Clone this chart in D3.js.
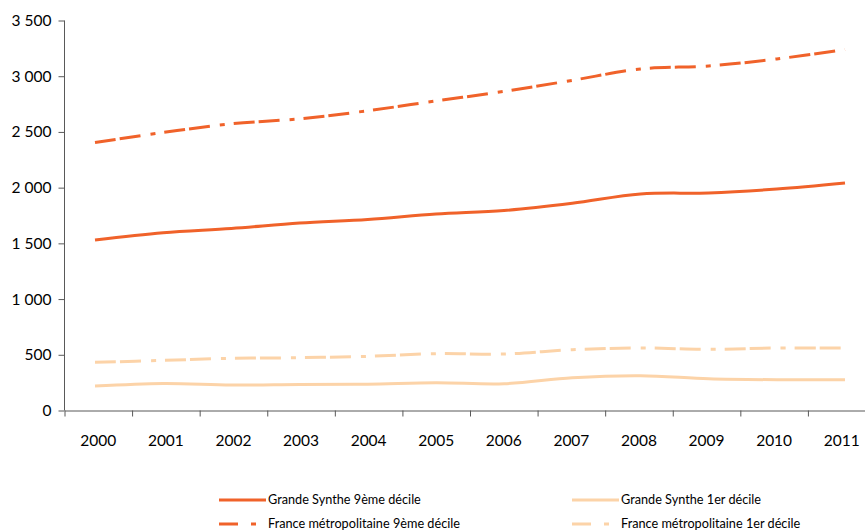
<!DOCTYPE html>
<html>
<head>
<meta charset="utf-8">
<script src="https://cdn.jsdelivr.net/npm/d3@7"></script>
<style>
  html, body { margin: 0; padding: 0; background: #fff; }
  svg { display: block; }
  text { font-family: Lato, "Open Sans", sans-serif; fill: #000; }
</style>
</head>
<body>
<svg id="chart" width="865" height="532"></svg>
<script>
// ---- Data ----
const years = ["2000","2001","2002","2003","2004","2005","2006","2007","2008","2009","2010","2011"];
const gs9 = [1530, 1595, 1634, 1683, 1715, 1763, 1795, 1860, 1943, 1953, 1988, 2042];
const fr9 = [2405, 2495, 2573, 2618, 2690, 2778, 2864, 2963, 3065, 3092, 3155, 3239];
const gs1 = [219, 243, 229, 234, 236, 249, 240, 294, 312, 285, 276, 276];
const fr1 = [432, 450, 468, 474, 486, 510, 507, 546, 561, 549, 561, 561];
const yTicks = [0, 500, 1000, 1500, 2000, 2500, 3000, 3500];
const seriesNames = ["Grande Synthe 9ème décile", "Grande Synthe 1er décile",
                     "France métropolitaine 9ème décile", "France métropolitaine 1er décile"];

const dark = "#F0622A";
const light = "#FCD3A8";
const dashDot = "21,4,21,10,5,9";

const series = [
  { name: seriesNames[0], values: gs9, color: dark, dash: null },
  { name: seriesNames[2], values: fr9, color: dark, dash: dashDot },
  { name: seriesNames[1], values: gs1, color: light, dash: null },
  { name: seriesNames[3], values: fr1, color: light, dash: dashDot }
];

const svg = d3.select("#chart");
const mLeft = 64.5, mRight = 875.5, mTop = 20.5, mBottom = 410.5;

const y = d3.scaleLinear().domain([0, 3500]).range([mBottom, mTop]);
const xBand = d3.scaleBand().domain(years).range([mLeft, mRight]);
const xIdx = d3.scaleLinear().domain([0, years.length]).range([mLeft, mRight]);
const xPt = d3.scalePoint().domain(years).range([95, 845]);

const fmt = d3.formatLocale({ thousands: "\u00a0", grouping: [3], decimal: ",", currency: ["", "€"] }).format(",");

// Y axis
const gy = svg.append("g").attr("transform", `translate(${mLeft},0)`)
  .call(d3.axisLeft(y).tickValues(yTicks).tickFormat(fmt).tickSize(6).tickPadding(7));
gy.select(".domain").attr("stroke", "#595959").attr("d", `M0,${mBottom}V${mTop}`);
gy.selectAll(".tick line").attr("stroke", "#595959");
gy.selectAll(".tick text").attr("font-size", 15.5).attr("font-family", "Lato, sans-serif").attr("fill", "#000");

// X axis tick marks at band boundaries
const gxTicks = svg.append("g").attr("transform", `translate(0,${mBottom})`)
  .call(d3.axisBottom(xIdx).tickValues(d3.range(0, years.length + 1)).tickFormat("").tickSize(6).tickSizeOuter(0));
gxTicks.select(".domain").attr("stroke", "#595959");
gxTicks.selectAll(".tick line").attr("stroke", "#595959");

// X axis labels (band centers)
const gx = svg.append("g").attr("transform", `translate(0,${mBottom})`)
  .call(d3.axisBottom(xBand).tickSize(0).tickPadding(24));
gx.select(".domain").remove();
gx.selectAll(".tick text").attr("font-size", 15.5).attr("font-family", "Lato, sans-serif").attr("fill", "#000");

// Lines
const line = d3.line()
  .x((d, i) => xPt(years[i]))
  .y(d => y(d))
  .curve(d3.curveCatmullRom.alpha(0.5));

series.forEach(s => {
  svg.append("path")
    .datum(s.values)
    .attr("fill", "none")
    .attr("stroke", s.color)
    .attr("stroke-width", 3)
    .attr("stroke-dasharray", s.dash)
    .attr("d", line);
});

// Legend
const legendItems = [
  { name: seriesNames[0], color: dark, dash: null, x: 219, y: 500 },
  { name: seriesNames[1], color: light, dash: null, x: 572, y: 500 },
  { name: seriesNames[2], color: dark, dash: "19,13,5,100", x: 219, y: 524 },
  { name: seriesNames[3], color: light, dash: "19,13,5,100", x: 572, y: 524 }
];
const lg = svg.append("g");
legendItems.forEach(it => {
  lg.append("line")
    .attr("x1", it.x).attr("x2", it.x + 47)
    .attr("y1", it.y).attr("y2", it.y)
    .attr("stroke", it.color).attr("stroke-width", 3)
    .attr("stroke-dasharray", it.dash);
  lg.append("text")
    .attr("x", it.x + 49).attr("y", it.y)
    .attr("dy", "0.35em")
    .attr("font-size", 12.7)
    .text(it.name);
});
</script>
</body>
</html>
